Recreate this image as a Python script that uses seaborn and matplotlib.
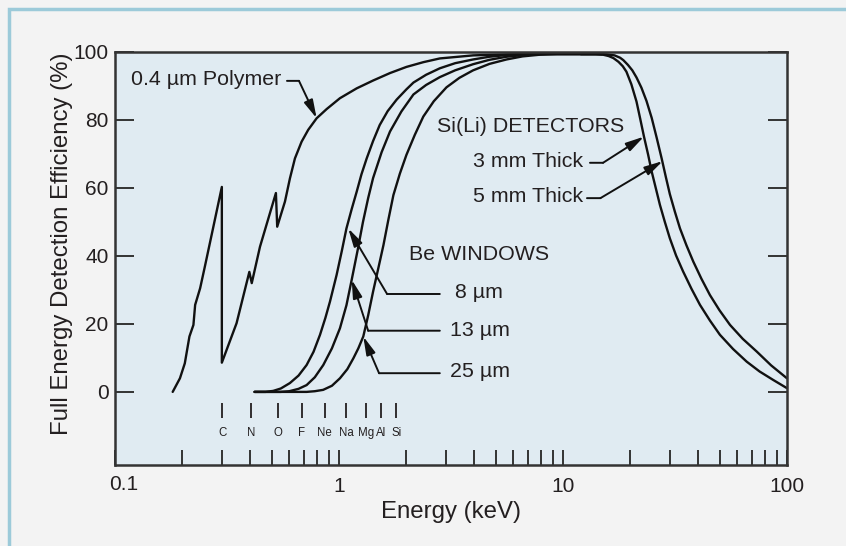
import matplotlib
matplotlib.use('Agg')
import matplotlib.pyplot as plt
from matplotlib.patches import Rectangle
from matplotlib.ticker import LogLocator, NullFormatter, FuncFormatter
import pandas as pd
import seaborn as sns

# Rising edge: 0.4 um polymer window (C and O absorption edges)
polymer_e = [0.181, 0.195, 0.205, 0.215, 0.224, 0.228, 0.24, 0.252, 0.275, 0.300,
             0.300, 0.349, 0.398, 0.408, 0.444, 0.523, 0.530, 0.574, 0.604, 0.636,
             0.681, 0.729, 0.795, 0.881, 1.01, 1.2, 1.42, 1.69, 2.0, 2.38,
             2.82, 3.97, 5.6, 7.1, 15.0]
polymer_eff = [0, 4, 8.4, 16.3, 19.7, 25.6, 30.5, 36.9, 48.6, 60.3,
               8.6, 20.2, 35.3, 32.0, 42.7, 58.5, 48.6, 56.0, 62.8, 68.7,
               73.6, 77.1, 80.5, 83.2, 86.4, 89.3, 91.6, 93.8, 95.6, 97.0,
               98.1, 99.0, 99.3, 99.4, 99.4]

# Rising edge: Be windows
be8_e = [0.42, 0.47, 0.509, 0.55, 0.604, 0.66, 0.717, 0.77, 0.823, 0.87,
         0.912, 0.976, 1.03, 1.08, 1.14, 1.2, 1.26, 1.33, 1.42, 1.52,
         1.65, 1.81, 2.0, 2.15, 2.45, 2.82, 3.3, 3.97, 4.7, 5.6, 7.1, 15.0]
be8_eff = [0, 0, 0.3, 1.0, 2.6, 4.8, 7.9, 11.8, 16.8, 21.8,
           26.6, 34.4, 41.5, 48.1, 53.8, 58.9, 64.0, 68.7, 73.8, 78.5,
           82.6, 86.0, 89.0, 91.0, 93.3, 95.2, 96.7, 97.8, 98.6, 99.1, 99.4, 99.4]

be13_e = [0.42, 0.55, 0.60, 0.66, 0.717, 0.78, 0.851, 0.93, 1.01, 1.08,
          1.14, 1.21, 1.28, 1.35, 1.42, 1.55, 1.69, 1.9, 2.15, 2.45,
          2.82, 3.3, 3.97, 4.7, 5.6, 7.1, 8.5, 15.0]
be13_eff = [0, 0, 0.2, 0.9, 2.0, 4.3, 7.9, 12.8, 18.7, 25.5,
            33.0, 41.5, 50.0, 57.0, 62.9, 70.5, 76.6, 82.5, 87.5, 90.3,
            92.6, 94.6, 96.4, 97.7, 98.6, 99.3, 99.4, 99.4]

be25_e = [0.42, 0.717, 0.78, 0.85, 0.93, 1.01, 1.09, 1.16, 1.22, 1.284,
          1.35, 1.42, 1.5, 1.58, 1.66, 1.75, 1.87, 2.0, 2.18, 2.38,
          2.65, 3.02, 3.45, 3.97, 4.7, 5.6, 6.6, 7.9, 9.4, 15.0]
be25_eff = [0, 0, 0.2, 0.6, 1.8, 4.0, 6.7, 9.9, 12.8, 16.3,
            22.5, 29.5, 36.5, 43.2, 50.5, 57.9, 64.2, 69.7, 75.6, 81.0,
            85.5, 89.6, 92.4, 94.6, 96.5, 97.8, 98.7, 99.2, 99.4, 99.4]

# Falling edge: Si(Li) crystal thickness
si3_e = [12.0, 14.0, 15.1, 16.0, 16.8, 17.7, 18.5, 19.2, 20.2, 21.3,
         22.1, 23.0, 24.0, 24.9, 26.0, 27.1, 28.5, 30.0, 32.0, 34.4,
         37.5, 40.9, 45.3, 50.2, 57.5, 66.1, 75.5, 86.9, 100.0]
si3_eff = [99.4, 99.4, 99.2, 98.8, 98.2, 97.1, 95.8, 94.2, 90.5, 85.4,
           80.5, 75.1, 69.8, 64.8, 59.8, 55.0, 50.0, 45.2, 40.1, 35.4,
           30.3, 25.6, 21.0, 16.8, 12.6, 8.9, 6.0, 3.5, 1.1]

si5_e = [12.0, 14.5, 15.7, 17.0, 18.0, 18.6, 19.5, 20.4, 21.3, 22.4,
         23.6, 24.9, 26.2, 27.6, 28.8, 30.0, 31.6, 33.3, 35.6, 38.2,
         41.5, 45.3, 50.0, 55.7, 63.5, 73.2, 85.0, 100.0]
si5_eff = [99.4, 99.4, 99.3, 99.0, 98.3, 97.6, 96.2, 94.6, 92.5, 89.5,
           85.6, 80.6, 74.8, 68.6, 63.2, 58.2, 53.0, 48.1, 43.1, 38.3,
           33.3, 28.5, 24.0, 19.7, 15.6, 11.9, 7.8, 4.0]

# element K-line markers
element_names = ['C', 'N', 'O', 'F', 'Ne', 'Na', 'Mg', 'Al', 'Si']
element_e = [0.302, 0.404, 0.535, 0.682, 0.864, 1.08, 1.32, 1.54, 1.80]

curves = {
    'polymer': (polymer_e, polymer_eff),
    'be8': (be8_e, be8_eff),
    'be13': (be13_e, be13_eff),
    'be25': (be25_e, be25_eff),
    'si3': (si3_e, si3_eff),
    'si5': (si5_e, si5_eff),
}
rows = []
for name, (e, eff) in curves.items():
    for x, y in zip(e, eff):
        rows.append({'curve': name, 'energy': x, 'eff': y})
df = pd.DataFrame(rows)

sns.set_theme(style='ticks')
plt.rcParams['font.family'] = ['Liberation Sans', 'DejaVu Sans']

ink = '#231f20'
fig = plt.figure(figsize=(8.46, 5.46), dpi=100, facecolor='#f3f3f3')
ax = fig.add_axes([0.1359, 0.1484, 0.7943, 0.7564])
ax.set_facecolor('#e0ebf2')

sns.lineplot(data=df, x='energy', y='eff', units='curve', estimator=None,
             sort=False, color='#111111', lw=1.7, ax=ax)
for ln in ax.lines:
    ln.set_clip_on(False)
    ln.set_solid_joinstyle('round')

ax.set_xscale('log')
ax.set_xlim(0.1, 100)
ax.set_ylim(-21.5, 100)

# element markers
ax.vlines(element_e, -7.7, -3.2, color=ink, lw=1.3)
for name, e in zip(element_names, element_e):
    ax.text(e, -12.2, name, ha='center', va='center', fontsize=8.3, color=ink)

ax.set_yticks([0, 20, 40, 60, 80, 100])
ax.xaxis.set_major_locator(LogLocator(base=10))
ax.xaxis.set_minor_locator(LogLocator(base=10, subs=range(2, 10)))
ax.xaxis.set_minor_formatter(NullFormatter())
# the 0.1 label sits a little right of its tick in the original, drawn separately below
ax.xaxis.set_major_formatter(FuncFormatter(lambda v, p: '' if v < 0.5 else f'{v:g}'))
ax.tick_params(axis='y', which='major', direction='in', length=14, width=1.4,
               right=True, left=True, labelsize=15, pad=4.5, colors='#333333',
               labelcolor=ink)
ax.tick_params(axis='x', which='both', direction='in', length=11, width=1.4,
               top=False, labelsize=15, pad=8.5, colors='#333333', labelcolor=ink)
ax.annotate('0.1', xy=(0.1, 0), xycoords=('data', 'axes fraction'),
            xytext=(6, -14), textcoords='offset points', ha='center', va='center',
            fontsize=15, color=ink)
for s in ax.spines.values():
    s.set_color('#333333')
    s.set_linewidth(1.8)

ax.set_xlabel('Energy (keV)', fontsize=17.3, color=ink, labelpad=4)
ax.set_ylabel('Full Energy Detection Efficiency (%)', fontsize=17.3, color=ink)
ax.yaxis.set_label_coords(-0.062, 0.535)

arrow = dict(arrowstyle='-|>,head_length=1.1,head_width=0.28', color='#111111',
             lw=1.4, shrinkA=0, shrinkB=0, mutation_scale=10)
stub = dict(arrowstyle='-', color='#111111', lw=1.4, shrinkA=0, shrinkB=0)


def leader(start, corner, tip):
    ax.annotate('', xy=corner, xytext=start, arrowprops=stub)
    ax.annotate('', xy=tip, xytext=corner, arrowprops=arrow)


fs = 15.4
ax.text(0.118, 91.8, '0.4 µm Polymer', fontsize=fs, color=ink, va='center')
leader((0.586, 91.5), (0.663, 91.5), (0.795, 80.5))

ax.text(2.74, 78.2, 'Si(Li) DETECTORS', fontsize=fs, color=ink, va='center')
ax.text(3.96, 67.9, '3 mm Thick', fontsize=fs, color=ink, va='center')
leader((13.2, 67.4), (15.1, 67.4), (23.0, 75.1))
ax.text(3.96, 57.4, '5 mm Thick', fontsize=fs, color=ink, va='center')
leader((12.8, 57.0), (14.7, 57.0), (27.9, 67.9))

ax.text(2.06, 40.3, 'Be WINDOWS', fontsize=fs, color=ink, va='center')
ax.text(3.30, 29.1, '8 µm', fontsize=fs, color=ink, va='center')
leader((2.82, 28.8), (1.64, 28.8), (1.10, 48.1))
ax.text(3.13, 18.0, '13 µm', fontsize=fs, color=ink, va='center')
leader((2.82, 18.0), (1.35, 18.0), (1.14, 33.0))
ax.text(3.13, 6.0, '25 µm', fontsize=fs, color=ink, va='center')
leader((2.82, 5.5), (1.51, 5.5), (1.284, 16.3))

# light blue frame around the panel
fig.add_artist(Rectangle((9 / 846, -0.1), 1.2, 1.1 - 8.5 / 546, transform=fig.transFigure,
                         fill=False, edgecolor='#9ccad9', lw=2.5))

fig.savefig('out.png', dpi=100, facecolor=fig.get_facecolor())
